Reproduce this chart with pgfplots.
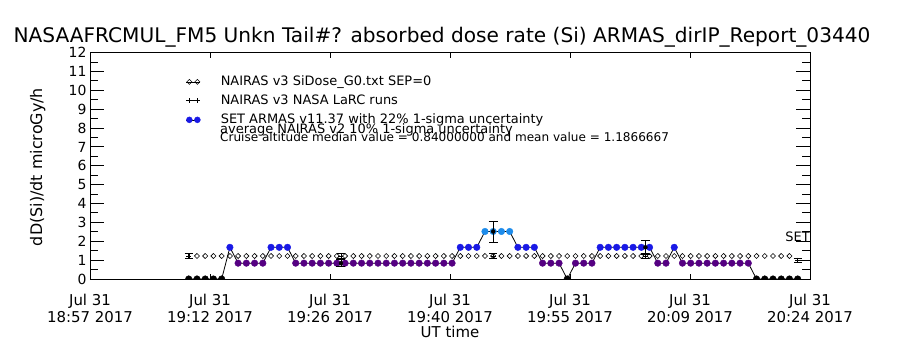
\documentclass[border=0pt]{standalone}
\usepackage{fontspec}
\setmainfont{DejaVu Sans}
\usepackage{pgfplots}
\usepackage{pgfplotstable}
\pgfplotsset{compat=1.18}
\definecolor{armpurple}{RGB}{85,0,130}
\definecolor{armblue}{RGB}{25,25,230}
\definecolor{armlight}{RGB}{30,140,235}
\pgfplotstableread{
x y c
12 0 k
13 0 k
14 0 k
15 0 k
16 0 k
17 1.68 b
18 0.84 p
19 0.84 p
20 0.84 p
21 0.84 p
22 1.68 b
23 1.68 b
24 1.68 b
25 0.84 p
26 0.84 p
27 0.84 p
28 0.84 p
29 0.84 p
30 0.84 p
31 0.84 p
32 0.84 p
33 0.84 p
34 0.84 p
35 0.84 p
36 0.84 p
37 0.84 p
38 0.84 p
39 0.84 p
40 0.84 p
41 0.84 p
42 0.84 p
43 0.84 p
44 0.84 p
45 1.68 b
46 1.68 b
47 1.68 b
48 2.52 l
49 2.52 l
50 2.52 l
51 2.52 l
52 1.68 b
53 1.68 b
54 1.68 b
55 0.84 p
56 0.84 p
57 0.84 p
58 0 k
59 0.84 p
60 0.84 p
61 0.84 p
62 1.68 b
63 1.68 b
64 1.68 b
65 1.68 b
66 1.68 b
67 1.68 b
68 1.68 b
69 0.84 p
70 0.84 p
71 1.68 b
72 0.84 p
73 0.84 p
74 0.84 p
75 0.84 p
76 0.84 p
77 0.84 p
78 0.84 p
79 0.84 p
80 0.84 p
81 0 k
82 0 k
83 0 k
84 0 k
85 0 k
86 0 k
}\armas
\pgfplotstableread{
x y
13 1.22
14 1.22
15 1.22
16 1.22
17 1.22
18 1.22
19 1.22
20 1.22
21 1.22
22 1.22
23 1.22
24 1.22
25 1.22
26 1.22
27 1.22
28 1.22
29 1.22
30 1.22
31 1.22
32 1.22
33 1.22
34 1.22
35 1.22
36 1.22
37 1.22
38 1.22
39 1.22
40 1.22
41 1.22
42 1.22
43 1.22
44 1.22
45 1.22
46 1.22
47 1.22
48 1.22
49 1.22
50 1.22
51 1.22
52 1.22
53 1.22
54 1.22
55 1.22
56 1.22
57 1.22
58 1.22
59 1.22
60 1.22
61 1.22
62 1.22
63 1.22
64 1.22
65 1.22
66 1.22
67 1.22
68 1.22
69 1.22
70 1.22
71 1.22
72 1.22
73 1.22
74 1.22
75 1.22
76 1.22
77 1.22
78 1.22
79 1.22
80 1.22
81 1.22
82 1.22
83 1.22
84 1.22
85 1.22
}\sidose
\begin{document}
\begin{tikzpicture}
\path[use as bounding box] (0,0) rectangle (900bp,350bp);
\begin{axis}[
  at={(90bp,71bp)}, anchor=south west,
  scale only axis, width=720bp, height=226.3bp,
  xmin=0, xmax=87.5, ymin=0, ymax=12,
  axis line style={line width=1bp},
  xtick={0,14.5833,29.1667,43.75,58.3333,72.9167,87.5},
  xticklabels={{Jul 31\\18:57 2017},{Jul 31\\19:12 2017},{Jul 31\\19:26 2017},{Jul 31\\19:40 2017},{Jul 31\\19:55 2017},{Jul 31\\20:09 2017},{Jul 31\\20:24 2017}},
  xticklabel style={align=center, font=\fontsize{15}{16.5}\selectfont, yshift=-12bp},
  minor x tick num=9,
  ytick={0,1,2,3,4,5,6,7,8,9,10,11,12},
  minor y tick num=1,
  yticklabel style={font=\fontsize{14}{14}\selectfont},
  /pgf/number format/assume math mode=true,
  tick style={black, line width=1bp},
  xtick style={/pgfplots/major tick length=5bp, /pgfplots/minor tick length=3bp},
  ytick style={/pgfplots/major tick length=14bp, /pgfplots/minor tick length=8bp},
  clip marker paths=true,
  legend style={draw=none, fill=none, at={(axis description cs:0.1333,0.8988)}, anchor=north west,
    inner sep=0pt, outer sep=0pt, row sep=6.5bp, column sep=20bp,
    font=\fontsize{13}{13}\selectfont,
    nodes={inner sep=0pt, text height=9.5bp, text depth=3bp}},
  legend cell align=left,
]
\addplot[black, only marks, mark=square, mark size=1.8bp, mark options={rotate=45, line width=0.6bp},
  legend image code/.code={\path (0bp,0bp) -- (14bp,0bp);
    \draw[black, only marks, mark=square, mark size=1.8bp, mark options={rotate=45, line width=0.6bp}] plot coordinates {(3bp,0bp) (11bp,0bp)};}]
  table[x=x,y=y] {\sidose};
\addlegendentry{NAIRAS v3 SiDose\_G0.txt SEP=0}
\addplot[black, line width=0.8bp, forget plot] table[x=x,y=y] {\armas};
\addplot[scatter, only marks, scatter src=explicit symbolic, mark=*, mark size=3.3bp, forget plot,
  scatter/classes={k={mark=*,black}, p={mark=*,armpurple}, b={mark=*,armblue}, l={mark=*,armlight}}]
  table[x=x,y=y,meta=c] {\armas};
\addplot[black, only marks, mark=+, mark size=2.5bp, line width=0.8bp,
  error bars/.cd, y dir=both, y explicit, error mark options={rotate=90, mark size=4bp, line width=0.8bp},
  /pgfplots/legend image code/.code={\path (0bp,0bp) -- (14bp,0bp);
    \draw[black, only marks, mark=+, mark size=2.5bp, line width=0.8bp] plot coordinates {(3bp,0bp) (11bp,0bp)};}]
  coordinates {(12,1.22) +- (0,0.12) (30.5,1.22) +- (0,0.12) (49,1.22) +- (0,0.12) (67.5,1.22) +- (0,0.12) (86,1.0) +- (0,0.1)};
\addlegendentry{NAIRAS v3 NASA LaRC runs}
\addplot[black, only marks, mark=none, forget plot,
  error bars/.cd, y dir=both, y explicit, error mark options={rotate=90, mark size=4.5bp, line width=0.8bp}]
  coordinates {(30.5,0.84) +- (0,0.185) (49,2.52) +- (0,0.554) (67.5,1.68) +- (0,0.37)};
\addlegendimage{legend image code/.code={\path (0bp,0bp) -- (14bp,0bp);
    \draw[armblue, only marks, mark=*, mark size=3bp] plot coordinates {(3bp,0bp) (11bp,0bp)};}}
\addlegendentry{SET ARMAS v11.37 with 22\% 1-sigma uncertainty}
\node[anchor=south east, inner sep=0pt, font=\fontsize{13}{13}\selectfont] at (axis cs:87.5,1.96) {SET};
\end{axis}
\node[anchor=base, font=\fontsize{20.2}{20.2}\selectfont] at (442bp,307bp) {NASAAFRCMUL\_FM5 Unkn Tail\#? absorbed dose rate (Si) ARMAS\_dirIP\_Report\_03440};
\node[rotate=90, anchor=base, font=\fontsize{16}{16}\selectfont] at (42bp,183bp) {dD(Si)/dt microGy/h};
\node[anchor=base, font=\fontsize{15}{15}\selectfont] at (450bp,13bp) {UT time};
\node[anchor=base west, inner sep=0pt, font=\fontsize{13}{13}\selectfont] at (220bp,216bp) {average NAIRAS v2 10\% 1-sigma uncertainty};
\node[anchor=base west, inner sep=0pt, font=\fontsize{12.1}{12.1}\selectfont] at (220bp,208bp) {Cruise altitude median value = 0.84000000 and mean value = 1.1866667};
\end{tikzpicture}
\end{document}
